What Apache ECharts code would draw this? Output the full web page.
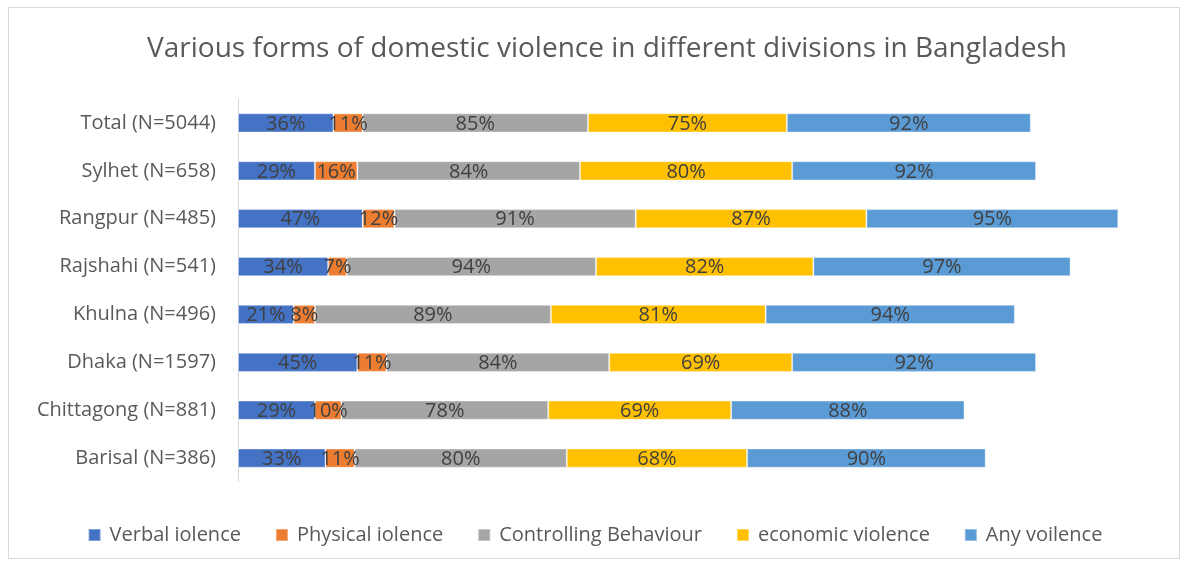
<!DOCTYPE html>
<html><head><meta charset="utf-8">
<script src="https://cdn.jsdelivr.net/npm/echarts@6/dist/echarts.min.js"></script>
<style>
html,body{margin:0;padding:0;background:#fff;}
#frame{position:absolute;left:8px;top:7px;width:1172px;height:552px;border:1px solid #d9d9d9;box-sizing:border-box;}
#c{position:absolute;left:0;top:0;width:1190px;height:567px;}
</style></head>
<body><div id="frame"></div><div id="c"></div>
<script>
const categories = ["Barisal (N=386)","Chittagong (N=881)","Dhaka (N=1597)","Khulna (N=496)","Rajshahi (N=541)","Rangpur (N=485)","Sylhet (N=658)","Total (N=5044)"];
const verbal = [33,29,45,21,34,47,29,36];
const physical = [11,10,11,8,7,12,16,11];
const controlling = [80,78,84,89,94,91,84,85];
const economic = [68,69,69,81,82,87,80,75];
const anyViolence = [90,88,92,94,97,95,92,92];
const seriesNames = ["Verbal iolence","Physical iolence","Controlling Behaviour","economic violence","Any voilence"];
const colors = ["#4472C4","#ED7D31","#A5A5A5","#FFC000","#5B9BD5"];
const FONT = "Open Sans";
const chart = echarts.init(document.getElementById('c'));
const data = [verbal, physical, controlling, economic, anyViolence];
chart.setOption({
  animation:false,
  title:{text:"Various forms of domestic violence in different divisions in Bangladesh",left:602,textAlign:'center',top:30,
    textStyle:{fontFamily:FONT,fontSize:28,fontWeight:'normal',color:'#595959'}},
  legend:{top:520,left:'center',itemWidth:12,itemHeight:12,itemGap:34,icon:'rect',
    textStyle:{fontFamily:FONT,fontSize:20,color:'#595959',padding:[0,0,0,4]}},
  grid:{left:238,top:99,height:383,right:24,containLabel:false},
  xAxis:{type:'value',min:0,max:350,show:false},
  yAxis:{type:'category',data:categories,
    axisLine:{show:true,lineStyle:{color:'#d9d9d9',width:1}},axisTick:{show:false},
    axisLabel:{fontFamily:FONT,fontSize:20,color:'#595959',margin:22}},
  series:data.map((d,i)=>({
    name:seriesNames[i],type:'bar',stack:'all',data:d,barWidth:'40%',
    itemStyle:{color:colors[i],borderColor:'rgba(255,255,255,0.35)',borderWidth:1},
    label:{show:true,position:'inside',formatter:'{c}%',fontFamily:FONT,fontSize:20,color:'#404040',offset:[0,1]}
  }))
});
</script></body></html>
